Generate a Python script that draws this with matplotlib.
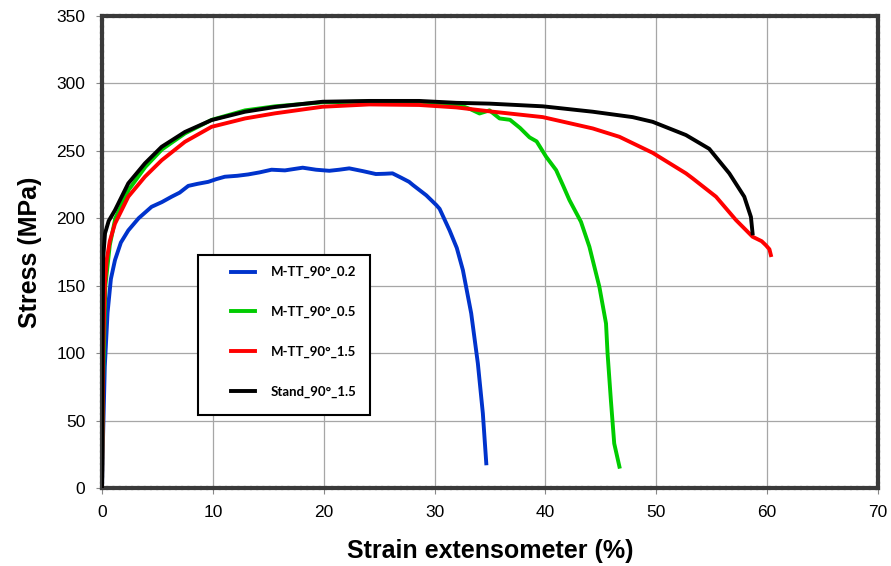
import matplotlib.pyplot as plt
from matplotlib.patches import Rectangle

# strain (%) / stress (MPa)
x_02 = [0, 0.1, 0.25, 0.5, 0.8, 1.17, 1.7, 2.37, 3.3, 4.47, 5.4, 6.28, 7.0, 7.78, 8.6, 9.58,
        10.3, 11.08, 12.2, 13.18, 14.2, 15.29, 16.5, 18.1, 19.3, 20.5, 21.4, 22.3, 23.5,
        24.7, 25.5, 26.2, 27.0, 27.7, 28.05, 29.25, 30.15, 30.45, 31.35, 32.0, 32.55,
        33.3, 33.9, 34.35, 34.66]
y_02 = [0, 40, 90, 130, 155, 169, 182, 191, 200, 208.5, 212, 216, 219, 224, 225.5, 227,
        229, 230.8, 231.5, 232.5, 234, 236, 235.5, 237.5, 236, 235.2, 236, 237, 235,
        232.8, 233, 233.3, 230, 227, 224.6, 217, 209.8, 207, 191, 178, 161.6,
        129.5, 92.4, 55.4, 18.3]

x_05 = [0, 0.1, 0.3, 0.7, 1.2, 2.4, 3.9, 5.4, 7.5, 9.9, 12.9, 15.6, 19.9, 24.1, 28.6,
        30.5, 32.25, 33.2, 34.05, 34.95, 35.86, 36.8, 37.7, 38.56, 39.2, 40.06, 40.96,
        41.6, 42.16, 43.2, 43.96, 44.86, 45.46, 45.6, 45.9, 46.2, 46.67]
y_05 = [0, 80, 150, 180, 200, 221, 238, 251, 263, 273, 280, 283, 286, 286.5, 286.5,
        285, 284, 281, 277.7, 280, 274, 273, 267, 260, 257, 245.6, 235.7,
        224, 213.5, 197.4, 178.9, 149.2, 122, 99.8, 65, 33, 15.8]

x_15 = [0, 0.02, 0.1, 0.25, 0.42, 0.7, 1.17, 2.37, 3.87, 5.38, 7.48, 9.88, 12.9, 15.6,
        19.9, 24.1, 28.6, 31.95, 35.25, 39.76, 44.26, 46.67, 49.67, 52.67, 53.27, 55.38,
        57.18, 58.68, 59.5, 59.88, 60.2, 60.33]
y_15 = [0, 15, 100, 150, 169, 183, 196, 216, 230.8, 243, 256.7, 267.8, 274, 277.8,
        282.7, 284.4, 284, 282.2, 279, 275, 266.6, 260.4, 248.5, 233.3, 229.6, 216,
        198.7, 186.3, 183, 180, 177, 172.7]

x_std = [0, 0.05, 0.1, 0.27, 0.6, 1.17, 2.37, 3.87, 5.38, 7.48, 9.88, 12.9, 15.6, 19.9,
         24.1, 28.6, 31.95, 34.95, 39.76, 44.26, 47.86, 49.67, 52.67, 54.77, 56.58,
         57.93, 58.53, 58.68]
y_std = [0, 100, 170, 188.8, 198, 206, 225.9, 240.7, 253, 264, 272.8, 279, 282.5, 286.4,
         287, 287, 285.6, 285, 283, 279, 275, 271.5, 261.7, 251.5, 233.3,
         216, 201, 188.8]

labels = ['M-TT_90°_0.2', 'M-TT_90°_0.5', 'M-TT_90°_1.5', 'Stand_90°_1.5']
colors = ['#0033CC', '#00CC00', '#FF0000', '#000000']

plt.rcParams['font.family'] = ['Liberation Sans', 'DejaVu Sans']

fig = plt.figure(figsize=(8.91, 5.66), dpi=100)
ax = fig.add_axes([0.1145, 0.1378, 0.871, 0.834])

for xs, ys, lab, c in zip([x_02, x_05, x_15, x_std], [y_02, y_05, y_15, y_std], labels, colors):
    ax.plot(xs, ys, color=c, lw=2.8, label=lab, zorder=3, solid_joinstyle='round')

ax.set_xlim(0, 70)
ax.set_ylim(0, 350)
ax.set_xticks(range(0, 71, 10))
ax.set_yticks(range(0, 351, 50))
ax.grid(True, color='#a6a6a6', lw=0.9)
ax.set_axisbelow(True)
ax.tick_params(direction='out', length=4, width=0.8, color='#888888', labelsize=12.5, pad=8)

for sp in ax.spines.values():
    sp.set_color('#3a3a3a')
    sp.set_linewidth(3)
    sp.set_linestyle((0, (1.0, 0.5)))

ax.set_xlabel('Strain extensometer (%)', fontsize=18, fontweight='bold', labelpad=14)
ax.set_ylabel('Stress (MPa)', fontsize=18, fontweight='bold', labelpad=10)

# legend box
box = Rectangle((0.1237, 0.1547), 0.2213, 0.339, transform=ax.transAxes,
                facecolor='white', edgecolor='black', lw=1.5, zorder=5)
ax.add_patch(box)
leg = ax.legend(loc='upper left', bbox_to_anchor=(0.166, 0.470), frameon=False,
                borderpad=0, borderaxespad=0, handlelength=1.8, handletextpad=1.2,
                labelspacing=2.1, prop={'family': ['Lato', 'DejaVu Sans'],
                                        'weight': 'bold', 'size': 9.5})
leg.set_zorder(6)
for h in leg.get_lines():
    h.set_linewidth(2.8)

fig.savefig('out.png', dpi=100)
